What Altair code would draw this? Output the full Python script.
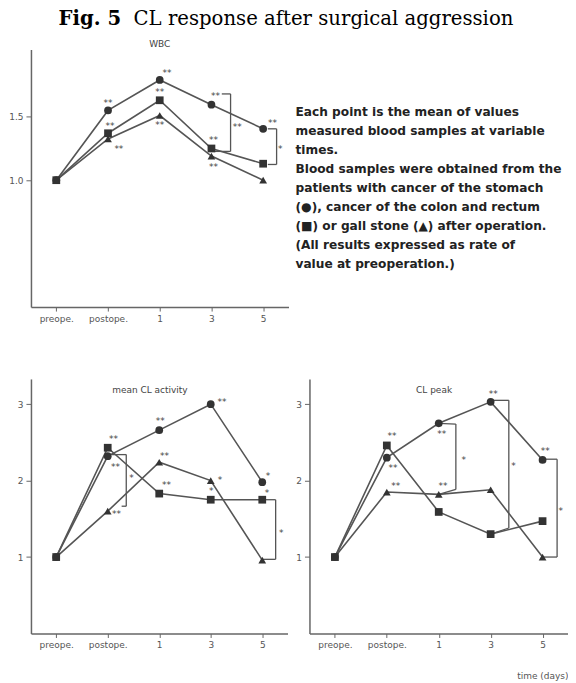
import json
import altair as alt
import pandas as pd

# ---------------- data ----------------
labels = ["preope.", "postope.", "1", "3", "5"]
xpos = [0, 1, 2, 3, 4]
series = ["stomach", "colon", "gall"]

wbc_stomach = [1.0, 1.55, 1.79, 1.595, 1.405]
wbc_colon = [1.0, 1.37, 1.63, 1.25, 1.13]
wbc_gall = [1.0, 1.325, 1.51, 1.19, 1.0]

act_stomach = [1.0, 2.32, 2.66, 3.0, 1.98]
act_colon = [1.0, 2.43, 1.83, 1.75, 1.75]
act_gall = [1.0, 1.6, 2.24, 2.0, 0.96]

peak_stomach = [1.0, 2.30, 2.75, 3.03, 2.27]
peak_colon = [1.0, 2.46, 1.59, 1.30, 1.47]
peak_gall = [1.0, 1.85, 1.82, 1.88, 1.0]

# significance marks (x in tick units, y in value units)
wbc_ann_x = [1.0, 1.04, 1.21, 2.14, 2.0, 2.0, 3.08, 3.04, 3.04, 3.5, 4.18, 4.33]
wbc_ann_y = [1.626, 1.44, 1.264, 1.857, 1.707, 1.453, 1.68, 1.335, 1.122, 1.437, 1.47, 1.264]
wbc_ann_t = ["**", "**", "**", "**", "**", "**", "**", "**", "**", "**", "**", "*"]

act_ann_x = [1.11, 1.15, 1.17, 1.46, 2.02, 2.10, 2.14, 3.22, 3.18, 3.01, 4.11, 4.09, 4.37]
act_ann_y = [2.566, 2.20, 1.59, 2.057, 2.81, 2.35, 1.97, 3.05, 2.03, 1.89, 2.08, 1.86, 1.34]
act_ann_t = ["**", "**", "**", "*", "**", "**", "**", "**", "*", "*", "*", "*", "*"]

peak_ann_x = [1.10, 1.12, 1.17, 2.06, 2.08, 2.48, 3.05, 3.44, 4.05, 4.35]
peak_ann_y = [2.61, 2.19, 1.95, 2.64, 1.96, 2.30, 3.16, 2.22, 2.41, 1.63]
peak_ann_t = ["**", "**", "**", "**", "**", "*", "**", "*", "**", "*"]

# bracket segments: x1, y1, x2, y2
wbc_br_x1 = [3.2, 3.37, 3.05, 4.09, 4.26, 4.09]
wbc_br_y1 = [1.68, 1.68, 1.227, 1.405, 1.405, 1.124]
wbc_br_x2 = [3.37, 3.37, 3.37, 4.26, 4.26, 4.26]
wbc_br_y2 = [1.68, 1.227, 1.227, 1.405, 1.124, 1.124]

act_br_x1 = [1.07, 1.36, 1.27, 4.0, 4.26, 4.0]
act_br_y1 = [2.34, 2.34, 1.665, 1.75, 1.75, 0.97]
act_br_x2 = [1.36, 1.36, 1.36, 4.26, 4.26, 4.26]
act_br_y2 = [2.34, 1.665, 1.665, 1.75, 0.97, 0.97]

peak_br_x1 = [2.0, 2.33, 2.0, 3.0, 3.35, 3.0, 4.0, 4.28, 4.0]
peak_br_y1 = [2.75, 2.74, 1.82, 3.05, 3.05, 1.30, 2.28, 2.28, 1.0]
peak_br_x2 = [2.33, 2.33, 2.33, 3.35, 3.35, 3.35, 4.28, 4.28, 4.28]
peak_br_y2 = [2.74, 1.885, 1.885, 3.05, 1.38, 1.38, 2.28, 1.0, 1.0]

panel_titles = ["WBC", "mean CL activity", "CL peak"]
panel_title_x = [2.0, 1.82, 1.91]
panel_title_y = [2.075, 3.18, 3.18]

note_lines = [
    "Each point is the mean of values",
    "measured blood samples at variable",
    "times.",
    "Blood samples were obtained from the",
    "patients with cancer of the stomach",
    "(\u25cf),  cancer of the colon and rectum",
    "(\u25a0) or gall stone (\u25b2) after operation.",
    "(All results expressed as rate of",
    "value at preoperation.)",
]

fig_label = "Fig. 5"
fig_title = "CL response after surgical aggression"
x_title = "time  (days)"

# ---------------- style ----------------
LINE = "#555555"
MARK = "#333333"
AXIS = "#666666"
LABEL = "#555555"
label_expr = json.dumps(labels) + "[datum.value]"


def panel(vals, ann_x, ann_y, ann_t, bx1, by1, bx2, by2, tidx,
          ydomain, yvalues, yformat, width, height, yextent, xtitle=None):
    rows = []
    for s, vs in zip(series, vals):
        for xv, yv in zip(xpos, vs):
            rows.append({"x": xv, "y": yv, "s": s})
    df = pd.DataFrame(rows)
    ann_df = pd.DataFrame({"x": ann_x, "y": ann_y, "t": ann_t})
    br_df = pd.DataFrame({"x": bx1, "y": by1, "x2": bx2, "y2": by2})
    tt_df = pd.DataFrame({"x": [panel_title_x[tidx]], "y": [panel_title_y[tidx]],
                          "t": [panel_titles[tidx]]})

    xaxis_kw = dict(values=xpos, labelExpr=label_expr, grid=False,
                    domainColor=AXIS, domainWidth=1.5, tickColor=AXIS,
                    tickSize=4, tickWidth=1, labelFontSize=9, labelColor=LABEL,
                    labelFont="DejaVu Sans", labelPadding=3,
                    minExtent=18, maxExtent=18)
    if xtitle:
        xaxis_kw.update(title=xtitle, titleAnchor="end", titleFontSize=9,
                        titleFont="DejaVu Sans", titleFontWeight="normal",
                        titleColor=LABEL, titlePadding=6,
                        minExtent=32, maxExtent=32)
    else:
        xaxis_kw.update(title=None)
    x = alt.X("x:Q", scale=alt.Scale(domain=[-0.49, 4.49], nice=False, zero=False),
              axis=alt.Axis(**xaxis_kw))
    y = alt.Y("y:Q", scale=alt.Scale(domain=ydomain, nice=False, zero=False),
              axis=alt.Axis(values=yvalues, format=yformat, title=None, grid=False,
                            domainColor=AXIS, domainWidth=1.5, tickColor=AXIS,
                            tickSize=5, tickWidth=1, labelFontSize=9,
                            labelColor=LABEL, labelFont="DejaVu Sans",
                            labelPadding=3, minExtent=yextent, maxExtent=yextent))

    brackets = alt.Chart(br_df).mark_rule(color=LINE, strokeWidth=1.3).encode(
        x=x, y=y, x2="x2:Q", y2="y2:Q")
    lines = alt.Chart(df).mark_line(color=LINE, strokeWidth=1.6).encode(
        x=x, y=y, detail="s:N")
    pts = alt.Chart(df).mark_point(filled=True, size=60, color=MARK, opacity=1).encode(
        x=x, y=y,
        shape=alt.Shape("s:N", scale=alt.Scale(domain=series,
                                               range=["circle", "square", "triangle-up"]),
                        legend=None))
    ann = alt.Chart(ann_df).mark_text(fontSize=9, font="DejaVu Sans", color="#444444",
                                      baseline="middle", dy=2).encode(
        x=x, y=y, text="t:N")
    ttl = alt.Chart(tt_df).mark_text(fontSize=9, font="DejaVu Sans", color="#444444",
                                     baseline="middle").encode(x=x, y=y, text="t:N")
    return alt.layer(brackets, lines, pts, ann, ttl).properties(width=width, height=height)


wbc = panel([wbc_stomach, wbc_colon, wbc_gall], wbc_ann_x, wbc_ann_y, wbc_ann_t,
            wbc_br_x1, wbc_br_y1, wbc_br_x2, wbc_br_y2, 0,
            [0, 2.03], [1.0, 1.5], ".1f", 258, 258, 21)
act = panel([act_stomach, act_colon, act_gall], act_ann_x, act_ann_y, act_ann_t,
            act_br_x1, act_br_y1, act_br_x2, act_br_y2, 1,
            [0, 3.33], [1, 2, 3], "d", 257, 255, 22)
peak = panel([peak_stomach, peak_colon, peak_gall], peak_ann_x, peak_ann_y, peak_ann_t,
             peak_br_x1, peak_br_y1, peak_br_x2, peak_br_y2, 2,
             [0, 3.33], [1, 2, 3], "d", 259, 255, 8, xtitle=x_title)

note = alt.Chart(pd.DataFrame({"k": [0]})).mark_text(
    text=note_lines, align="left", baseline="top", font="DejaVu Sans",
    fontSize=12.2, fontWeight="bold", lineHeight=19, color="#222222").encode(
    x=alt.value(0), y=alt.value(57)).properties(width=250, height=200)

row1 = alt.hconcat(wbc, note, spacing=7)
row2 = alt.hconcat(act, peak, spacing=8)

chart = alt.vconcat(row1, row2, spacing=54).properties(
    title=alt.TitleParams(
        text=fig_label,
        subtitle="\u200b" + "\u00a0" * 12 + fig_title,
        anchor="start", dx=50, frame="bounds",
        font="DejaVu Serif", fontSize=19.7, fontWeight="bold", color="black",
        subtitleFont="DejaVu Serif", subtitleFontSize=19.7,
        subtitleFontWeight="normal", subtitleColor="black",
        subtitlePadding=-19.7, offset=11),
    padding={"left": 0, "top": 0, "right": 0, "bottom": 0},
).configure_view(stroke=None)

chart.save("out.html", embed_options={"renderer": "svg", "actions": False})
